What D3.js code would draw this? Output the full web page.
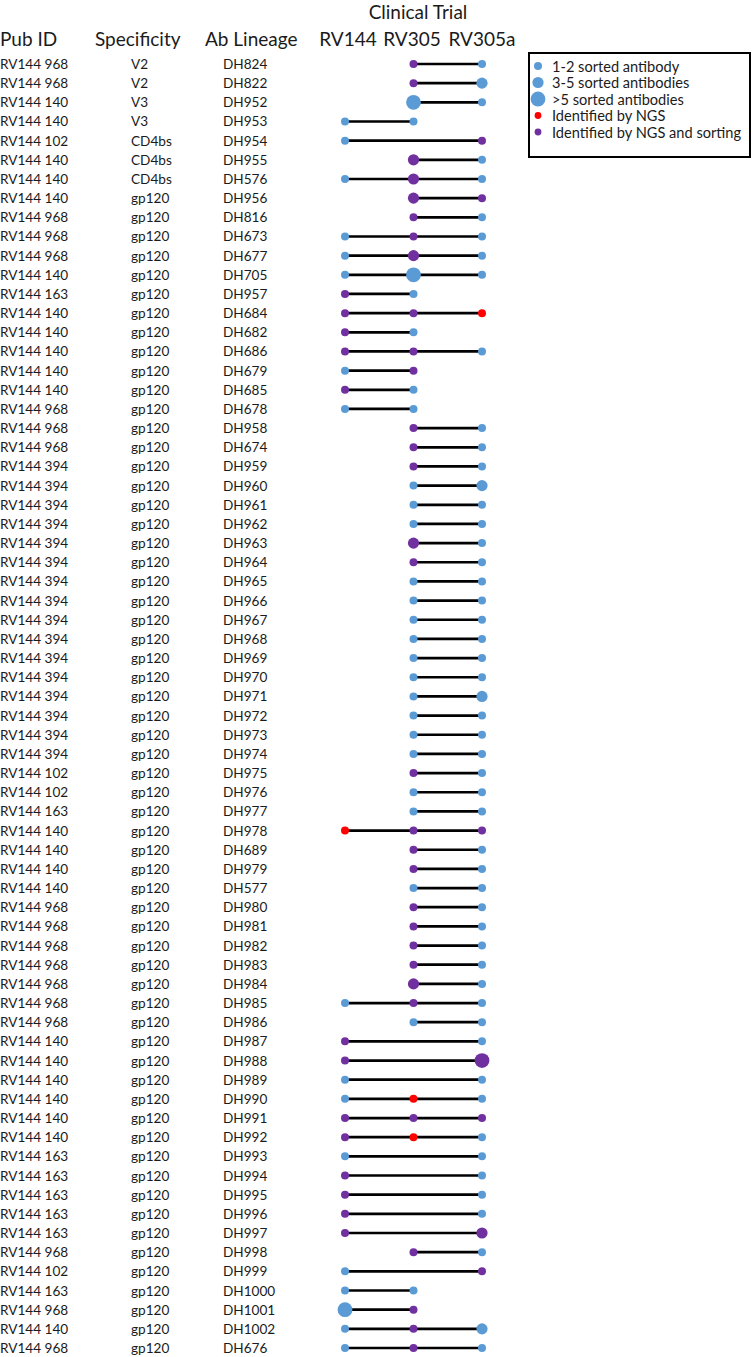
<!DOCTYPE html>
<html>
<head>
<meta charset="utf-8">
<script src="https://cdn.jsdelivr.net/npm/d3@7"></script>
<style>
  html, body { margin: 0; padding: 0; background: #fff; }
  svg { display: block; font-family: Lato, "Open Sans", sans-serif; }
</style>
</head>
<body>
<svg id="chart" width="754" height="1357"></svg>
<script>
// ---------------- DATA ----------------
const trials = ["RV144", "RV305", "RV305a"];
const headerLabels = ["Pub ID", "Specificity", "Ab Lineage"];
const groupTitle = "Clinical Trial";

const pubIds = [
  "RV144 968","RV144 968","RV144 140","RV144 140","RV144 102","RV144 140","RV144 140","RV144 140",
  "RV144 968","RV144 968","RV144 968","RV144 140","RV144 163","RV144 140","RV144 140","RV144 140",
  "RV144 140","RV144 140","RV144 968","RV144 968","RV144 968","RV144 394","RV144 394","RV144 394",
  "RV144 394","RV144 394","RV144 394","RV144 394","RV144 394","RV144 394","RV144 394","RV144 394",
  "RV144 394","RV144 394","RV144 394","RV144 394","RV144 394","RV144 102","RV144 102","RV144 163",
  "RV144 140","RV144 140","RV144 140","RV144 140","RV144 968","RV144 968","RV144 968","RV144 968",
  "RV144 968","RV144 968","RV144 968","RV144 140","RV144 140","RV144 140","RV144 140","RV144 140",
  "RV144 140","RV144 163","RV144 163","RV144 163","RV144 163","RV144 163","RV144 968","RV144 102",
  "RV144 163","RV144 968","RV144 140","RV144 968"
];
const specificities = [
  "V2","V2","V3","V3","CD4bs","CD4bs","CD4bs","gp120",
  "gp120","gp120","gp120","gp120","gp120","gp120","gp120","gp120",
  "gp120","gp120","gp120","gp120","gp120","gp120","gp120","gp120",
  "gp120","gp120","gp120","gp120","gp120","gp120","gp120","gp120",
  "gp120","gp120","gp120","gp120","gp120","gp120","gp120","gp120",
  "gp120","gp120","gp120","gp120","gp120","gp120","gp120","gp120",
  "gp120","gp120","gp120","gp120","gp120","gp120","gp120","gp120",
  "gp120","gp120","gp120","gp120","gp120","gp120","gp120","gp120",
  "gp120","gp120","gp120","gp120"
];
const lineages = [
  "DH824","DH822","DH952","DH953","DH954","DH955","DH576","DH956",
  "DH816","DH673","DH677","DH705","DH957","DH684","DH682","DH686",
  "DH679","DH685","DH678","DH958","DH674","DH959","DH960","DH961",
  "DH962","DH963","DH964","DH965","DH966","DH967","DH968","DH969",
  "DH970","DH971","DH972","DH973","DH974","DH975","DH976","DH977",
  "DH978","DH689","DH979","DH577","DH980","DH981","DH982","DH983",
  "DH984","DH985","DH986","DH987","DH988","DH989","DH990","DH991",
  "DH992","DH993","DH994","DH995","DH996","DH997","DH998","DH999",
  "DH1000","DH1001","DH1002","DH676"
];
// codes: B = sorted (blue), N = NGS only (red), P = NGS and sorting (purple); digit = size class
const rv144 = [
  "","","","B1","B1","","B1","",
  "","B1","B1","B1","P1","P1","P1","P1",
  "B1","P1","B1","","","","","",
  "","","","","","","","",
  "","","","","","","","",
  "N1","","","","","","","",
  "","B1","","P1","P1","B1","B1","P1",
  "P1","B1","P1","P1","P1","P1","","B1",
  "B1","B3","B1","B1"
];
const rv305 = [
  "P1","P1","B3","B1","","P2","P2","P2",
  "P1","P1","P2","B3","B1","P1","B1","P1",
  "P1","B1","B1","P1","P1","P1","B1","B1",
  "B1","P2","P1","B1","B1","B1","B1","B1",
  "B1","B1","B1","B1","B1","P1","B1","B1",
  "P1","P1","P1","B1","P1","P1","P1","P1",
  "P2","P1","B1","","","","N1","P1",
  "N1","","","","","","P1","",
  "B1","P1","P1","P1"
];
const rv305a = [
  "B1","B2","B1","","P1","B1","B1","P1",
  "B1","B1","B1","B1","","N1","","B1",
  "","","","B1","B1","B1","B2","B1",
  "B1","B1","B1","B1","B1","B1","B1","B1",
  "B1","B2","B1","B1","B1","B1","B1","B1",
  "P1","B1","B1","B1","B1","B1","B1","B1",
  "B1","B1","B1","B1","P3","B1","B1","P1",
  "B1","B1","B1","B1","B1","P2","B1","P1",
  "","","B2","B1"
];
const legendLabels = ["1-2 sorted antibody","3-5 sorted antibodies",">5 sorted antibodies","Identified by NGS","Identified by NGS and sorting"];
const legendCodes = ["B1","B2","B3","N0","P0"];

// ---------------- SCALES ----------------
const svg = d3.select("#chart");
const color = d3.scaleOrdinal().domain(["B","N","P"]).range(["#5b9bd5","#ff0000","#7030a0"]);
const radius = d3.scaleOrdinal().domain(["0","1","2","3"]).range([3.4,4,5.6,7.4]);
const x = d3.scalePoint().domain(trials).range([345, 482]);
const y = d3.scalePoint().domain(lineages).range([64, 1348]);

const rows = lineages.map((lin, i) => ({
  lin, pub: pubIds[i], spec: specificities[i],
  codes: [rv144[i], rv305[i], rv305a[i]]
}));

const textColor = "#1b1b1b";

// ---------------- HEADERS ----------------
svg.append("text").attr("x", 418).attr("y", 11).attr("text-anchor","middle")
  .attr("dominant-baseline","central").attr("font-size", 19).attr("fill", textColor).text(groupTitle);
const headerX = [0, 95, 205];
headerLabels.forEach((h, i) => {
  svg.append("text").attr("x", headerX[i]).attr("y", 38).attr("dominant-baseline","central")
    .attr("font-size", 19).attr("fill", textColor).text(h);
});
const trialHeaderX = d3.scaleOrdinal().domain(trials).range([348, 412, 482]);
svg.selectAll("text.trial").data(trials).join("text").attr("class","trial")
  .attr("x", d => trialHeaderX(d)).attr("y", 38).attr("text-anchor","middle")
  .attr("dominant-baseline","central").attr("font-size", 19).attr("fill", textColor).text(d => d);

// ---------------- ROW TEXT ----------------
const rowG = svg.selectAll("g.row").data(rows).join("g").attr("class","row")
  .attr("transform", d => `translate(0,${y(d.lin)})`);
rowG.append("text").attr("x", 0).attr("dominant-baseline","central").attr("font-size", 13.6)
  .attr("fill", textColor).text(d => d.pub);
rowG.append("text").attr("x", 131).attr("dominant-baseline","central").attr("font-size", 13.6)
  .attr("fill", textColor).text(d => d.spec);
rowG.append("text").attr("x", 223).attr("dominant-baseline","central").attr("font-size", 13.6)
  .attr("fill", textColor).text(d => d.lin);

// ---------------- LINES ----------------
rowG.each(function(d) {
  const present = trials.filter((t, j) => d.codes[j] !== "");
  if (present.length > 1) {
    d3.select(this).append("line")
      .attr("x1", x(present[0])).attr("x2", x(present[present.length - 1]))
      .attr("y1", 0).attr("y2", 0)
      .attr("stroke", "#000").attr("stroke-width", 2.7);
  }
});

// ---------------- DOTS ----------------
rowG.each(function(d) {
  const pts = trials.map((t, j) => ({ t, c: d.codes[j] })).filter(p => p.c !== "");
  d3.select(this).selectAll("circle").data(pts).join("circle")
    .attr("cx", p => x(p.t)).attr("cy", 0)
    .attr("r", p => radius(p.c[1]))
    .attr("fill", p => color(p.c[0]));
});

// ---------------- LEGEND ----------------
const lg = svg.append("g").attr("transform", "translate(529,53)");
lg.append("rect").attr("x", 0).attr("y", 0).attr("width", 221).attr("height", 104)
  .attr("fill", "#fff").attr("stroke", "#000").attr("stroke-width", 2);
const ly = d3.scalePoint().domain(legendLabels).range([13, 79]);
legendLabels.forEach((lab, i) => {
  const c = legendCodes[i];
  lg.append("circle").attr("cx", 9).attr("cy", ly(lab)).attr("r", radius(c[1])).attr("fill", color(c[0]));
  lg.append("text").attr("x", 23).attr("y", ly(lab)).attr("dominant-baseline","central")
    .attr("font-size", 14.6).attr("fill", textColor).text(lab);
});
</script>
</body>
</html>
